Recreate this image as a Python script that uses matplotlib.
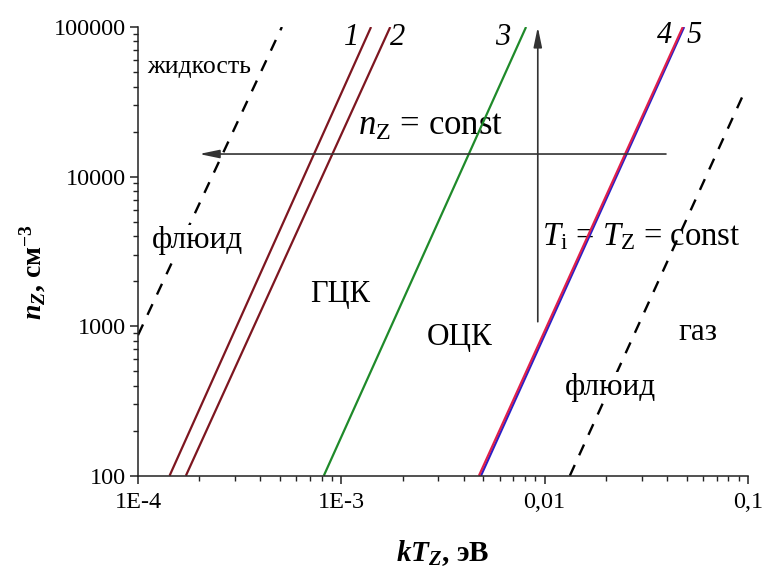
import matplotlib
matplotlib.use("Agg")
import matplotlib.pyplot as plt
from matplotlib.ticker import FixedLocator, FixedFormatter, LogLocator, NullFormatter

SERIF = "Liberation Serif"
plt.rcParams["font.family"] = [SERIF, "DejaVu Serif"]
plt.rcParams["mathtext.fontset"] = "custom"
plt.rcParams["mathtext.rm"] = SERIF
plt.rcParams["mathtext.it"] = SERIF + ":italic"
plt.rcParams["mathtext.bf"] = SERIF + ":bold"
plt.rcParams["mathtext.bfit"] = SERIF + ":italic:bold"

# phase boundaries, n_Z from 100 to 1e5 (kT_Z in eV read at both ends)
N_ENDS = [100, 1e5]
T_LOW = [1.43e-4, 1.72e-4, 8.2e-4, 4.86e-3, 4.75e-3]
T_HIGH = [1.40e-3, 1.74e-3, 8.1e-3, 4.85e-2, 4.78e-2]
LINE_COLORS = ["#7d1620", "#7d1620", "#1f8a2a", "#2a20c8", "#e0204a"]
LINE_NAMES = ["1", "2", "3", "5", "4"]

# dashed liquid / gas boundaries
DASH_L_T = [1.0e-4, 5.1e-4]
DASH_L_N = [870, 1e5]
DASH_R_T = [1.33e-2, 9.8e-2]
DASH_R_N = [100, 3.9e4]

# arrows
HARROW_T = [0.0395, 2.0e-4]
HARROW_N = 14150
VARROW_T = 9.25e-3
VARROW_N = [1070, 1e5]

XTICKS = [1e-4, 1e-3, 1e-2, 1e-1]
XLABELS = ["1E-4", "1E-3", "0,01", "0,1"]
YTICKS = [100, 1000, 10000, 100000]
YLABELS = ["100", "1000", "10000", "100000"]

fig = plt.figure(figsize=(7.62, 5.70), dpi=100)
ax = fig.add_axes([138 / 762, 1 - 475.7 / 570, 610 / 762, 448.7 / 570])
ax.set_xscale("log")
ax.set_yscale("log")
ax.set_xlim(1e-4, 0.1)
ax.set_ylim(100, 1e5)

for i in range(len(T_LOW)):
	ax.plot([T_LOW[i], T_HIGH[i]], N_ENDS, color=LINE_COLORS[i], lw=1.6,
		solid_capstyle="butt")

dash = (0, (5, 4.5))
ax.plot(DASH_L_T, DASH_L_N, color="black", lw=1.7, ls=dash, zorder=1)
ax.plot(DASH_R_T, DASH_R_N, color="black", lw=1.7, ls=dash, zorder=1)

aprops = dict(arrowstyle="-|>,head_length=1.2,head_width=0.25",
	color="#333333", lw=1.2, shrinkA=0, shrinkB=0)
ax.annotate("", xy=(HARROW_T[1], HARROW_N), xytext=(HARROW_T[0], HARROW_N),
	arrowprops=aprops)
ax.annotate("", xy=(VARROW_T, VARROW_N[1]), xytext=(VARROW_T, VARROW_N[0]),
	arrowprops=aprops, annotation_clip=False)

# ticks and spines
for s in ["top", "right"]:
	ax.spines[s].set_visible(False)
for s in ["left", "bottom"]:
	ax.spines[s].set_linewidth(1.1)
	ax.spines[s].set_color("#222222")
ax.xaxis.set_major_locator(FixedLocator(XTICKS))
ax.xaxis.set_major_formatter(FixedFormatter(XLABELS))
ax.yaxis.set_major_locator(FixedLocator(YTICKS))
ax.yaxis.set_major_formatter(FixedFormatter(YLABELS))
ax.xaxis.set_minor_locator(LogLocator(base=10, subs=range(2, 10)))
ax.yaxis.set_minor_locator(LogLocator(base=10, subs=range(2, 10)))
ax.xaxis.set_minor_formatter(NullFormatter())
ax.yaxis.set_minor_formatter(NullFormatter())
ax.tick_params(which="major", length=6, width=1.1, labelsize=17.5, color="#222222")
ax.tick_params(which="minor", length=3.3, width=1.0, color="#222222")
ax.tick_params(axis="x", which="major", pad=6)
ax.tick_params(axis="y", which="major", pad=3)

# region labels
def px(x, y):
	return ((x - 138) / 610, (475.7 - y) / 448.7)

white = dict(facecolor="white", edgecolor="none", pad=1)
labels = [
	("жидкость", 147, 73, 18.5, None),
	("флюид", 152, 248, 22.5, white),
	("ГЦК", 310, 302, 22, None),
	("ОЦК", 427, 345, 22.5, None),
	("газ", 678, 340, 22.5, None),
	("флюид", 565, 395, 22.5, white),
	(r"$n_\mathrm{Z}$ = const", 358, 135, 25, None),
	(r"$T_\mathrm{i}$ = $T_\mathrm{Z}$ = const", 542, 245, 23.5, None),
]
for txt, x, y, fs, bb in labels:
	ax.text(*px(x, y), txt, transform=ax.transAxes, fontsize=fs,
		ha="left", va="baseline", bbox=bb, zorder=0 if bb is None else 3)

nums = [("1", 344, 45), ("2", 390, 45), ("3", 495, 45), ("4", 657, 43),
	("5", 687, 43)]
for txt, x, y in nums:
	ax.text(*px(x, y), txt, transform=ax.transAxes, fontsize=22,
		style="italic", ha="left", va="baseline")

fig.text(33 / 762, 1 - 272 / 570, r"$\mathbfit{n}_\mathbfit{Z}$, см$^{\mathbf{-3}}$",
	rotation=90, ha="center", va="center", fontsize=20, fontweight="bold")
fig.text(443 / 762, 1 - 553 / 570, r"$\mathbfit{kT}_\mathbfit{Z}$, эВ",
	ha="center", va="center", fontsize=21, fontweight="bold")

fig.savefig("out.png", dpi=100)
